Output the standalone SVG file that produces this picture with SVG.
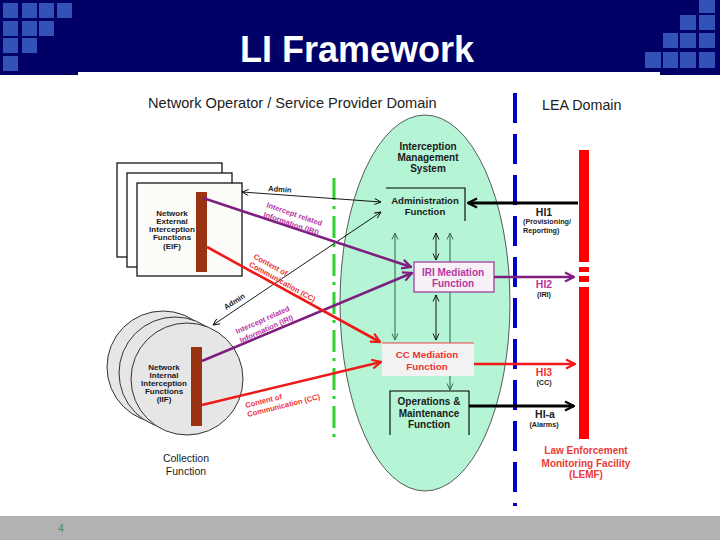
<svg xmlns="http://www.w3.org/2000/svg" width="720" height="540" viewBox="0 0 720 540">
<style>
text{font-family:"Liberation Sans",Arial,sans-serif}
.sq{fill:#3352b8}
.b{font-weight:bold}
.dk{fill:#1a1a1a}
.c{text-anchor:middle}
.f10{font-size:10px}
.f8{font-size:8px}
.f75{font-size:7.5px}
.thin{stroke:#000;stroke-width:0.9;fill:none}
.gthin{stroke:#3d6e50;stroke-width:1.1;fill:none}
.pur{stroke:#7e1f80;stroke-width:2.6;fill:none}
.red{stroke:#ee1a1a;stroke-width:2.6;fill:none}
.blk{stroke:#000;stroke-width:2.8;fill:none}
.brown{fill:#993311}
.lemf{fill:#ff0000}
.irit{fill:#b8379f}
.cct{fill:#ee3333}
</style>
<defs>
<marker id="mP" viewBox="0 0 12 12" refX="11" refY="6" markerWidth="12" markerHeight="12" markerUnits="userSpaceOnUse" orient="auto"><path d="M2,1.5 L11,6 L2,10.5" fill="none" stroke="#7e1f80" stroke-width="2.2"/></marker>
<marker id="mR" viewBox="0 0 12 12" refX="11" refY="6" markerWidth="12" markerHeight="12" markerUnits="userSpaceOnUse" orient="auto"><path d="M2,1.5 L11,6 L2,10.5" fill="none" stroke="#ee1a1a" stroke-width="2.2"/></marker>
<marker id="mB" viewBox="0 0 12 12" refX="11" refY="6" markerWidth="12" markerHeight="12" markerUnits="userSpaceOnUse" orient="auto"><path d="M2,1.5 L11,6 L2,10.5" fill="none" stroke="#000" stroke-width="2.2"/></marker>
<marker id="mT" viewBox="0 0 8 8" refX="7.5" refY="4" markerWidth="8" markerHeight="8" markerUnits="userSpaceOnUse" orient="auto-start-reverse"><path d="M1,1 L7.5,4 L1,7" fill="none" stroke="#000" stroke-width="0.9"/></marker>
<marker id="mG" viewBox="0 0 8 8" refX="7.5" refY="4" markerWidth="8" markerHeight="8" markerUnits="userSpaceOnUse" orient="auto-start-reverse"><path d="M1,1 L7.5,4 L1,7" fill="none" stroke="#3d6e50" stroke-width="1"/></marker>
</defs>

<!-- background -->
<rect x="0" y="0" width="720" height="540" fill="#ffffff"/>

<!-- header -->
<g id="header">
<rect x="0" y="0" width="720" height="72" fill="#000066"/>
<rect x="0" y="72" width="78" height="3" fill="#000066"/>
<rect x="660" y="72" width="60" height="3" fill="#000066"/>
<rect class="sq" x="3" y="3" width="15" height="15"/>
<rect class="sq" x="22" y="3" width="15" height="15"/>
<rect class="sq" x="39" y="3" width="15" height="15"/>
<rect class="sq" x="57" y="3" width="15" height="15"/>
<rect class="sq" x="3" y="21" width="15" height="15"/>
<rect class="sq" x="22" y="21" width="15" height="15"/>
<rect class="sq" x="39" y="21" width="15" height="15"/>
<rect class="sq" x="3" y="38" width="15" height="15"/>
<rect class="sq" x="22" y="38" width="15" height="15"/>
<rect class="sq" x="3" y="56" width="15" height="15"/>
<rect class="sq" x="699" y="0" width="16" height="13"/>
<rect class="sq" x="680" y="15" width="16" height="15"/>
<rect class="sq" x="699" y="15" width="16" height="15"/>
<rect class="sq" x="663" y="33" width="15" height="15"/>
<rect class="sq" x="680" y="33" width="16" height="15"/>
<rect class="sq" x="699" y="33" width="16" height="15"/>
<rect class="sq" x="645" y="52" width="16" height="16"/>
<rect class="sq" x="663" y="52" width="15" height="16"/>
<rect class="sq" x="680" y="52" width="16" height="16"/>
<rect class="sq" x="699" y="52" width="16" height="16"/>
<text x="357" y="62" class="b c" font-size="36" fill="#ffffff">LI Framework</text>
</g>

<!-- footer -->
<g id="footer">
<rect x="0" y="516" width="720" height="24" fill="#b2b2b2"/>
<text x="61" y="532" class="c" font-size="10" fill="#4c8c4c">4</text>
</g>

<!-- domain titles -->
<text x="148" y="108" font-size="14.6" fill="#222">Network Operator / Service Provider Domain</text>
<text x="542" y="110" font-size="14.3" fill="#222">LEA Domain</text>

<!-- domain boundaries -->
<line x1="515" y1="93" x2="515" y2="506" stroke="#0000cc" stroke-width="4" stroke-dasharray="30 11"/>

<!-- Interception management system ellipse -->
<g id="ims">
<ellipse cx="425" cy="303" rx="85" ry="188" fill="#b5f4d4" stroke="#333" stroke-width="0.8"/>
<text x="428" y="150" class="b c f10 dk">Interception</text>
<text x="428" y="161" class="b c f10 dk">Management</text>
<text x="428" y="172" class="b c f10 dk">System</text>
</g>

<line x1="334" y1="178" x2="334" y2="441" stroke="#2ed12e" stroke-width="3" stroke-dasharray="22 6 3 7"/>

<!-- internal connectors -->
<g id="internal-connectors">
<line class="gthin" x1="395" y1="233" x2="395" y2="340" marker-start="url(#mG)" marker-end="url(#mG)"/>
<line class="gthin" x1="450" y1="233" x2="450" y2="390" marker-start="url(#mG)" marker-end="url(#mG)"/>
<line class="thin" x1="436" y1="233" x2="436" y2="260" marker-start="url(#mT)" marker-end="url(#mT)"/>
<line class="thin" x1="436" y1="295" x2="436" y2="340" marker-start="url(#mT)" marker-end="url(#mT)"/>
</g>

<g id="admin-function">
<path d="M386,188 H465 V221" fill="none" stroke="#000" stroke-width="1.1"/>
<text x="425" y="204" class="b c dk" font-size="9.6">Administration</text>
<text x="425" y="215" class="b c dk" font-size="9.6">Function</text>
</g>

<g id="iri-mediation">
<rect x="414" y="262" width="80" height="30" fill="#f7f0f7" stroke="#993399" stroke-width="1.2"/>
<text x="453" y="276" class="b c f10 irit">IRI Mediation</text>
<text x="453" y="287" class="b c f10 irit">Function</text>
</g>

<g id="cc-mediation">
<rect x="382" y="343" width="92" height="33" fill="#f2f2f2"/>
<line x1="382" y1="343" x2="474" y2="343" stroke="#ee4444" stroke-width="1.2"/>
<text x="427" y="358" class="b c cct" font-size="9.8">CC Mediation</text>
<text x="427" y="370" class="b c cct" font-size="9.8">Function</text>
</g>

<g id="om-function">
<path d="M390,435 V391 H469 V435" fill="none" stroke="#000" stroke-width="1.1"/>
<text x="429" y="405" class="b c f10 dk">Operations &amp;</text>
<text x="429" y="417" class="b c f10 dk">Maintenance</text>
<text x="429" y="428" class="b c f10 dk">Function</text>
</g>

<!-- EIF -->
<g id="eif">
<rect x="117" y="163" width="105" height="94" fill="#ffffff" stroke="#000" stroke-width="1.2"/>
<rect x="127" y="173" width="105" height="94" fill="#ffffff" stroke="#000" stroke-width="1.2"/>
<rect x="137" y="183" width="105" height="93" fill="#fcfcf8" stroke="#000" stroke-width="1.2"/>
<rect class="brown" x="196" y="192" width="11" height="80"/>
<text x="172" y="216" class="b c f8 dk">Network</text>
<text x="172" y="224" class="b c f8 dk">External</text>
<text x="172" y="232" class="b c f8 dk">Interception</text>
<text x="172" y="240" class="b c f8 dk">Functions</text>
<text x="172" y="249" class="b c f8 dk">(EIF)</text>
</g>

<!-- IIF -->
<g id="iif">
<circle cx="163" cy="367" r="56" fill="#e6e6e6" stroke="#333" stroke-width="1"/>
<circle cx="175" cy="373" r="56" fill="#e6e6e6" stroke="#333" stroke-width="1"/>
<circle cx="187" cy="379" r="56" fill="#e6e6e6" stroke="#333" stroke-width="1"/>
<rect class="brown" x="191" y="347" width="11" height="79"/>
<text x="164" y="370" class="b c f8 dk">Network</text>
<text x="164" y="378" class="b c f8 dk">Internal</text>
<text x="164" y="386" class="b c f8 dk">Interception</text>
<text x="164" y="394" class="b c f8 dk">Functions</text>
<text x="164" y="402" class="b c f8 dk">(IIF)</text>
<text x="186" y="462" class="c dk" font-size="10.5">Collection</text>
<text x="186" y="475" class="c dk" font-size="10.5">Function</text>
</g>

<!-- LEMF -->
<g id="lemf">
<rect class="lemf" x="579" y="150" width="10" height="112"/>
<rect class="lemf" x="579" y="267" width="10" height="5"/>
<rect class="lemf" x="579" y="276" width="10" height="6"/>
<rect class="lemf" x="579" y="287" width="10" height="152"/>
<text x="586" y="454" class="b c f10" fill="#e83a3a">Law Enforcement</text>
<text x="586" y="467" class="b c f10" fill="#e83a3a">Monitoring Facility</text>
<text x="586" y="478" class="b c f10" fill="#e83a3a">(LEMF)</text>
</g>

<!-- connectors -->
<g id="connectors">
<line class="thin" x1="242" y1="192" x2="381" y2="202" marker-start="url(#mT)" marker-end="url(#mT)"/>
<line class="thin" x1="213" y1="325" x2="381" y2="212" marker-start="url(#mT)" marker-end="url(#mT)"/>
<line class="pur" x1="203" y1="198" x2="411" y2="267" marker-end="url(#mP)"/>
<line class="pur" x1="202" y1="361" x2="412" y2="273" marker-end="url(#mP)"/>
<line class="red" x1="207" y1="247" x2="380" y2="342" marker-end="url(#mR)"/>
<line class="red" x1="202" y1="405" x2="381" y2="362" marker-end="url(#mR)"/>
<line class="blk" x1="578" y1="203" x2="468" y2="203" marker-end="url(#mB)"/>
<line class="pur" x1="494" y1="277" x2="574" y2="277" marker-end="url(#mP)"/>
<line class="red" x1="474" y1="364" x2="575" y2="364" marker-end="url(#mR)"/>
<line class="blk" x1="469" y1="406" x2="574" y2="406" stroke-width="2.4" marker-end="url(#mB)"/>
</g>

<!-- connector labels -->
<g id="connector-labels">
<text transform="translate(268,191) rotate(4)" class="b f75 dk">Admin</text>
<text transform="translate(226,310) rotate(-33)" class="b f75 dk">Admin</text>
<text transform="translate(266,207) rotate(19)" class="b f75 irit">Intercept related</text>
<text transform="translate(263,216.5) rotate(19)" class="b f75 irit">Information (IRI)</text>
<text transform="translate(253,258) rotate(29)" class="b f75 cct">Content of</text>
<text transform="translate(248.5,266) rotate(29)" class="b f75 cct">Communication (CC)</text>
<text transform="translate(237,334) rotate(-24)" class="b f75 irit">Intercept related</text>
<text transform="translate(241,343) rotate(-24)" class="b f75 irit">Information (IRI)</text>
<text transform="translate(246,408) rotate(-14)" class="b f75 cct">Content of</text>
<text transform="translate(248,417) rotate(-14)" class="b f75 cct">Communication (CC)</text>
<text x="544" y="216" class="b c" font-size="10.5" fill="#222">HI1</text>
<text x="523" y="224" class="b dk" font-size="7.2">(Provisioning/</text>
<text x="523" y="233" class="b dk" font-size="7.2">Reporting)</text>
<text x="544" y="288" class="b c irit" font-size="10.5">HI2</text>
<text x="544" y="297" class="b c dk" font-size="7.2">(IRI)</text>
<text x="544" y="376" class="b c cct" font-size="10.5">HI3</text>
<text x="544" y="385" class="b c dk" font-size="7.2">(CC)</text>
<text x="545" y="418" class="b c" font-size="10.5" fill="#222">HI-a</text>
<text x="544" y="427" class="b c dk" font-size="7.2">(Alarms)</text>
</g>
</svg>
